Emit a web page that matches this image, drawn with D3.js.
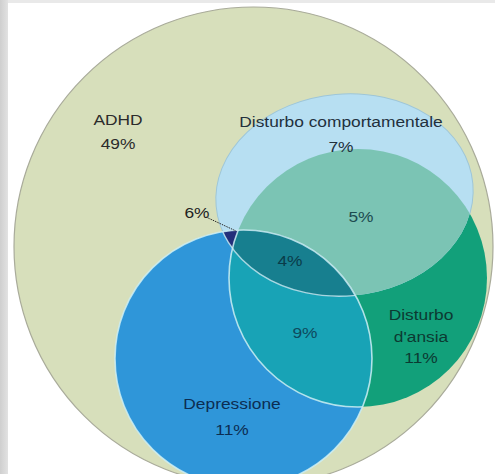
<!DOCTYPE html>
<html>
<head>
<meta charset="utf-8">
<script src="https://cdn.jsdelivr.net/npm/d3@7"></script>
<style>
  html, body { margin: 0; padding: 0; background: #ffffff; }
  svg { display: block; }
  text { font-family: "Liberation Sans", Arial, Helvetica, sans-serif; }
</style>
</head>
<body>
<svg id="chart" width="495" height="474"></svg>
<script>
// ---------------- DATA ----------------
const setNames = ["ADHD", "Disturbo comportamentale", "Disturbo d'ansia", "Depressione"];
const regionKeys = ["ADHD", "C", "A", "D", "CA", "CAD", "AD", "CD"];
const regionValues = [49, 7, 11, 11, 5, 4, 9, 6];
const regionTitles = [["ADHD"], ["Disturbo comportamentale"], ["Disturbo", "d'ansia"], ["Depressione"], [], [], [], []];

// ---------------- LAYOUT (geometry in unit space of the ADHD circle) ----------------
const W = 495, H = 474;
const sx = d3.scaleLinear().domain([-1, 1]).range([14, 493]);
const sy = d3.scaleLinear().domain([-1, 1]).range([7, 486]);
const sr = d => sx(d) - sx(0);

const shapes = {
  ADHD: { cx: 0, cy: 0, rx: 1, ry: 1, rot: 0 },
  C:    { cx: 0.3800, cy: -0.2150, rx: 0.5380, ry: 0.4217, rot: -5 },
  A:    { cx: 0.4363, cy: 0.1315, rx: 0.5386, ry: 0.5386, rot: 0 },
  D:    { cx: -0.0418, cy: 0.4676, rx: 0.5365, ry: 0.5365, rot: 0 }
};

const fills = {
  ADHD: "#d7dfbb", C: "#b7dff2", A: "#12a07a", D: "#2f96d9",
  CA: "#7bc4b4", AD: "#18a3b6", CD: "#232f7a", CAD: "#177f8f"
};

const labelPos = {
  ADHD: { x: 118, y: 125, color: "#2b2b2b" },
  C:    { x: 341, y: 127, color: "#22303d" },
  A:    { x: 421, y: 320, color: "#0c3a32" },
  D:    { x: 232, y: 409, color: "#0c2d52" },
  CA:   { x: 361, y: 222, color: "#1d4b50" },
  CAD:  { x: 290, y: 266, color: "#0a3c4a" },
  AD:   { x: 305, y: 338, color: "#0e4a5e" },
  CD:   { x: 197, y: 218, color: "#222222" }
};
const lineGap = { ADHD: 24, C: 25, A: 21.5, D: 26 };
const fontSize = 15.5;
const stretch = 1.12;

// ---------------- DRAW ----------------
const svg = d3.select("#chart");
const defs = svg.append("defs");

svg.append("rect").attr("width", W).attr("height", H).attr("fill", "#ffffff");
const grad = defs.append("linearGradient").attr("id", "edge").attr("x1", 0).attr("x2", 1);
grad.append("stop").attr("offset", 0).attr("stop-color", "#cfcfcf");
grad.append("stop").attr("offset", 1).attr("stop-color", "#e2e2e2");
svg.append("rect").attr("x", 0).attr("y", 0).attr("width", W).attr("height", 3).attr("fill", "#e9e9e9");
svg.append("rect").attr("x", 0).attr("y", 0).attr("width", 8).attr("height", H).attr("fill", "url(#edge)");

function addShape(sel, key) {
  const s = shapes[key];
  return sel.append("ellipse")
    .attr("cx", sx(s.cx)).attr("cy", sy(s.cy))
    .attr("rx", sr(s.rx)).attr("ry", sr(s.ry))
    .attr("transform", s.rot ? `rotate(${s.rot},${sx(s.cx)},${sy(s.cy)})` : null);
}

["ADHD", "C", "A", "D"].forEach(k => {
  addShape(defs.append("clipPath").attr("id", "clip-" + k), k);
});

const mask = defs.append("mask").attr("id", "outsideAD");
mask.append("rect").attr("width", W).attr("height", H).attr("fill", "white");
addShape(mask, "A").attr("fill", "black");
addShape(mask, "D").attr("fill", "black");

addShape(svg, "ADHD").attr("fill", fills.ADHD).attr("stroke", "#a9ab9a").attr("stroke-width", 1.2);

addShape(svg, "D").attr("fill", fills.D);
addShape(svg, "A").attr("fill", fills.A);
addShape(svg, "C").attr("fill", fills.C);

addShape(svg.append("g").attr("clip-path", "url(#clip-C)"), "A").attr("fill", fills.CA);
addShape(svg.append("g").attr("clip-path", "url(#clip-D)"), "A").attr("fill", fills.AD);
addShape(svg.append("g").attr("clip-path", "url(#clip-D)"), "C").attr("fill", fills.CD);
addShape(svg.append("g").attr("clip-path", "url(#clip-D)").append("g").attr("clip-path", "url(#clip-C)"), "A").attr("fill", fills.CAD);

addShape(svg.append("g").attr("mask", "url(#outsideAD)"), "C")
  .attr("fill", "none").attr("stroke", "#9ec6d8").attr("stroke-width", 1);
addShape(svg, "D").attr("fill", "none").attr("stroke", "#cdeef4").attr("stroke-width", 1.6).attr("stroke-opacity", 0.85);
addShape(svg.append("g").attr("clip-path", "url(#clip-D)"), "A")
  .attr("fill", "none").attr("stroke", "#cdeef4").attr("stroke-width", 1.6).attr("stroke-opacity", 0.85);
addShape(svg.append("g").attr("clip-path", "url(#clip-D)"), "C")
  .attr("fill", "none").attr("stroke", "#cdeef4").attr("stroke-width", 1.4).attr("stroke-opacity", 0.8);

svg.append("line")
  .attr("x1", labelPos.CD.x + 9).attr("y1", labelPos.CD.y - 1)
  .attr("x2", 236).attr("y2", 231)
  .attr("stroke", "#2a2a2a").attr("stroke-width", 1)
  .attr("stroke-dasharray", "1.5,1");

const labels = regionKeys.map((k, i) => ({
  key: k,
  lines: regionTitles[i].concat([regionValues[i] + "%"])
}));

const lg = svg.append("g");
labels.forEach(l => {
  const p = labelPos[l.key];
  const gap = lineGap[l.key] || 24;
  l.lines.forEach((t, j) => {
    lg.append("g")
      .attr("transform", `translate(${p.x},${p.y + j * gap})`)
      .append("text")
      .attr("transform", `scale(${stretch},1)`)
      .attr("text-anchor", "middle")
      .attr("font-size", fontSize)
      .attr("fill", p.color)
      .text(t);
  });
});
</script>
</body>
</html>
